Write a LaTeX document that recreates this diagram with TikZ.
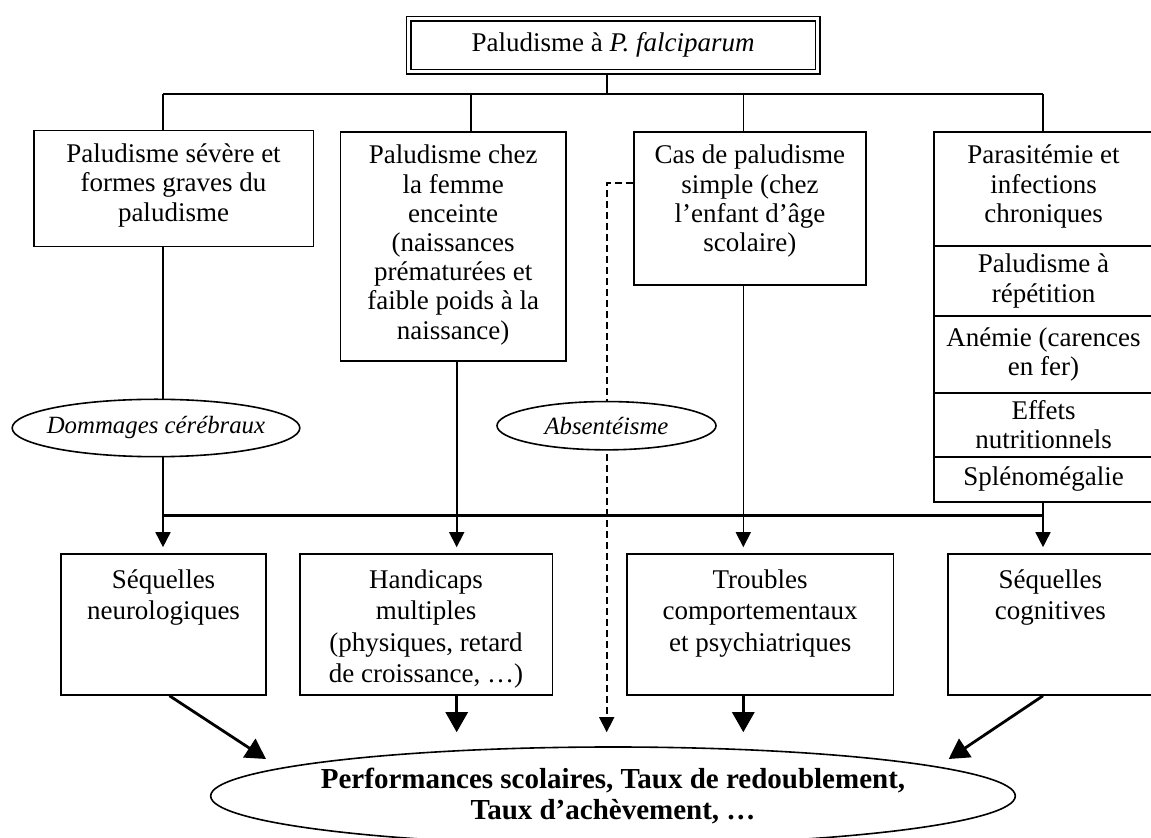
\documentclass[tikz,border=0pt]{standalone}
\usepackage{fontspec}
\setmainfont{Liberation Serif}
\usetikzlibrary{shapes.geometric,arrows.meta}

\tikzset{
  boite/.style={draw, rectangle, inner sep=0pt, font=\fontsize{13.5}{14.6}\selectfont},
  effet/.style={boite, font=\fontsize{13.5}{15.7}\selectfont},
  bulle/.style={draw, ellipse, fill=white, inner ysep=0pt, inner xsep=-4pt, font=\fontsize{12.4}{14}\selectfont\itshape},
  fleche/.style={->, shorten >=3pt},
  grosse/.style={line width=1.4pt, -{Triangle[length=10pt,width=11pt]}}
}
\newcommand{\haut}[4][16pt]{\parbox[c][#3][t]{#2}{\centering\rule{0pt}{#1}#4}}
\newcommand{\milieu}[3]{\parbox[c][#2][c]{#1}{\centering #3}}

\begin{document}
\begin{tikzpicture}[x=0.5pt,y=-0.5pt,line width=0.8pt,>={Triangle[length=7.5pt,width=7.5pt]}]
\useasboundingbox (0,0) rectangle (1151,838);

\node(Titre)[boite, double, double distance=1.5pt, line width=0.7pt, minimum width=204.6pt, minimum height=26.45pt] at (613.2,45.35) {Paludisme à \textit{P. falciparum}};

\node(Sev)[boite] at (173.5,188.7) {\haut{139.8pt}{58pt}{Paludisme sévère et\\formes graves du\\paludisme}};
\node(Fem)[boite] at (453.2,246.5) {\haut{112.85pt}{114.5pt}{Paludisme chez\\la femme\\enceinte\\(naissances\\prématurées et\\faible poids à la\\naissance)}};
\node(Simple)[boite] at (749.9,208.5) {\haut{116.15pt}{76.5pt}{Cas de paludisme\\simple (chez\\l’enfant d’âge\\scolaire)}};
\node(Para)[boite] at (1043.5,189) {\haut{109.5pt}{57pt}{Parasitémie et\\infections\\chroniques}};
\node(Rep)[boite] at (1043.5,281) {\milieu{109.5pt}{35pt}{Paludisme à\\répétition}};
\node(Anem)[boite] at (1043.5,354.5) {\milieu{109.5pt}{38.5pt}{Anémie (carences\\en fer)}};
\node(Nutri)[boite] at (1043.5,425) {\milieu{109.5pt}{32pt}{Effets\\nutritionnels}};
\node(Splen)[boite] at (1043.5,479.5) {\milieu{109.5pt}{22.5pt}{Splénomégalie}};

\node(Neuro)[effet] at (163.5,624.5) {\haut[17.3pt]{102.5pt}{70.5pt}{Séquelles\\neurologiques}};
\node(Handi)[effet] at (426,624.5) {\haut[17.3pt]{126.3pt}{70.5pt}{Handicaps\\multiples\\(physiques, retard\\de croissance, …)}};
\node(Troub)[effet] at (760.15,624.5) {\haut[17.3pt]{133.15pt}{70.5pt}{Troubles\\comportementaux\\et psychiatriques}};
\node(Cogn)[effet] at (1050.35,624.5) {\haut[17.3pt]{102.65pt}{70.5pt}{Séquelles\\cognitives}};

\node(Perf)[draw, ellipse, inner ysep=0pt, inner xsep=-5pt, minimum width=402.3pt, minimum height=49pt, align=center, font=\fontsize{14.5}{15.5}\selectfont\bfseries] at (613,796) {Performances scolaires, Taux de redoublement,\\Taux d’achèvement, …};

\coordinate (T0) at (607,94);
\coordinate (H1) at (163,94);
\coordinate (H2) at (470.7,94);
\coordinate (H3) at (743.3,94);
\coordinate (H4) at (1043,94);
\coordinate (C1) at (163,515.5);
\coordinate (C2) at (456.7,515.5);
\coordinate (C3) at (743.3,515.5);
\coordinate (C4) at (1043,515.5);
\coordinate (A0) at (606.7,183.3);
\coordinate (PG) at (266,759);
\coordinate (PD) at (948.7,759);

\draw[shorten <=1.45pt] (Titre.south -| T0) -- (T0);
\draw (H1) -- (H4);
\draw (H1) -- (H1 |- Sev.north);
\draw (H2) -- (H2 |- Fem.north);
\draw (H3) -- (H3 |- Simple.north);
\draw (H4) -- (H4 |- Para.north);

\draw (H1 |- Sev.south) -- (C1);
\draw (C2 |- Fem.south) -- (C2);
\draw (C3 |- Simple.south) -- (C3);
\draw (C4 |- Splen.south) -- (C4);
\draw[line width=1.2pt] (C1) -- (C4);

\draw[fleche] (C1) -- (C1 |- Neuro.north);
\draw[fleche] (C2) -- (C2 |- Handi.north);
\draw[fleche] (C3) -- (C3 |- Troub.north);
\draw[fleche] (C4) -- (C4 |- Cogn.north);

\draw[grosse] ([xshift=3pt]Neuro.south) -- (PG);
\draw[grosse, shorten >=7pt] (C2 |- Handi.south) -- (C2 |- Perf.north);
\draw[->, dash pattern=on 3.5pt off 2pt, shorten >=7pt] (Simple.west |- A0) -- (A0) -- (A0 |- Perf.north);
\draw[grosse, shorten >=7pt] (C3 |- Troub.south) -- (C3 |- Perf.north);
\draw[grosse] (C4 |- Cogn.south) -- (PD);

\node(Domm)[bulle, minimum width=143.85pt, minimum height=28.7pt] at (156,428) {Dommages cérébraux};
\node(Abs)[bulle, minimum width=109.5pt, minimum height=24.15pt] at (606.5,425.7) {Absentéisme};
\end{tikzpicture}
\end{document}
